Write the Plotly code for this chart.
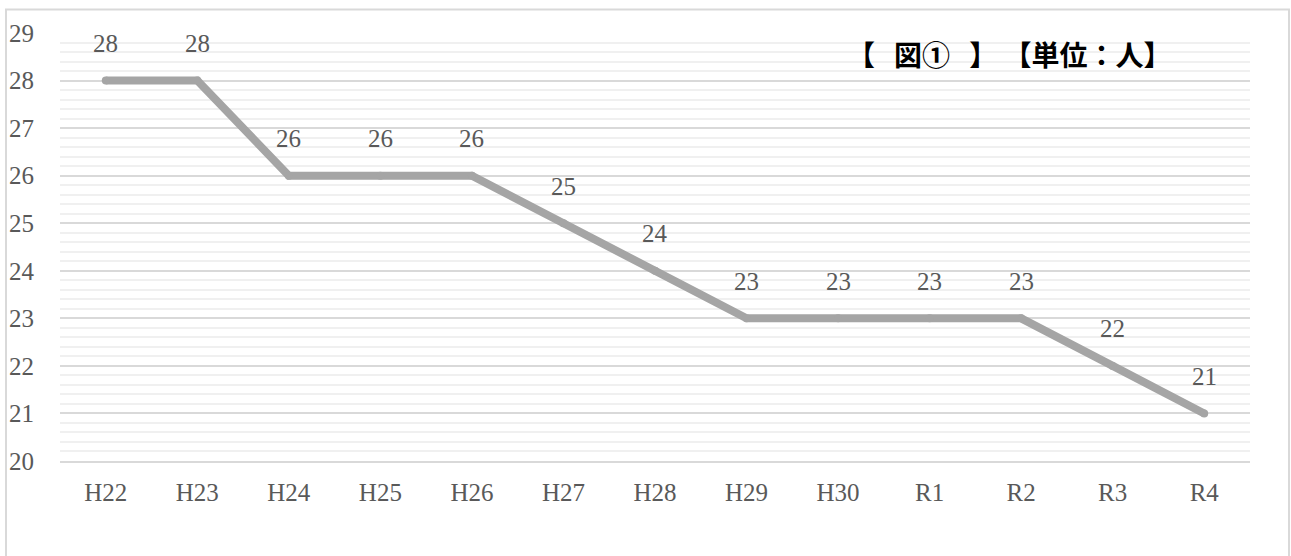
import plotly.graph_objects as go

# Yearly head count
years = ["H22", "H23", "H24", "H25", "H26", "H27", "H28", "H29", "H30", "R1", "R2", "R3", "R4"]
counts = [28, 28, 26, 26, 26, 25, 24, 23, 23, 23, 23, 22, 21]
y_ticks = [20, 21, 22, 23, 24, 25, 26, 27, 28, 29]
nb = "\u00a0"
chart_title = f"【{nb*3}図①{nb*3}】{nb}【単位：人】"

W, H = 1291, 556
L, R, T, B = 60, 41, 32.5, 94.5
plot_w = W - L - R
plot_h = H - T - B

serif = "Liberation Serif, DejaVu Serif, serif"
label_color = "#595959"
line_color = "#a5a5a5"

fig = go.Figure()
fig.add_trace(go.Scatter(
    x=years, y=counts,
    mode="lines+markers",
    line=dict(color=line_color, width=8),
    marker=dict(color=line_color, size=8),
    hoverinfo="skip",
    showlegend=False,
))

# value labels above each point
for yr, v in zip(years, counts):
    fig.add_annotation(
        x=yr, y=v, xref="x", yref="y",
        text=str(v), showarrow=False,
        yshift=37,
        font=dict(family=serif, size=25, color=label_color),
    )

fig.add_annotation(
    x=(1009 - L) / plot_w, y=(H - B - 54) / plot_h,
    xref="paper", yref="paper",
    text=chart_title, showarrow=False,
    xanchor="center", yanchor="middle",
    font=dict(family="Noto Sans CJK JP", size=28, color="#000000", weight="bold"),
)

# outer chart frame
fig.add_shape(
    type="rect", xref="paper", yref="paper",
    x0=(6 - L) / plot_w, x1=(1289 - L) / plot_w,
    y0=(H - B - 570) / plot_h, y1=(H - B - 9) / plot_h,
    line=dict(color="#d9d9d9", width=2),
    fillcolor="rgba(0,0,0,0)",
    layer="below",
)

fig.update_layout(
    width=W, height=H,
    margin=dict(l=L, r=R, t=T, b=B, pad=0, autoexpand=False),
    paper_bgcolor="white",
    plot_bgcolor="white",
    xaxis=dict(
        type="category",
        range=[-0.5, len(years) - 0.5],
        showgrid=False,
        showline=True, linecolor="#d9d9d9", linewidth=2,
        ticks="", ticklabelstandoff=8,
        tickfont=dict(family=serif, size=25, color=label_color),
        automargin=False,
        fixedrange=True,
    ),
    yaxis=dict(
        range=[20, 29],
        tickvals=y_ticks,
        showgrid=True, gridcolor="#d9d9d9", gridwidth=1.5,
        zeroline=False, showline=False,
        ticks="", ticklabelstandoff=25,
        tickfont=dict(family=serif, size=25, color=label_color),
        minor=dict(dtick=0.2, showgrid=True, gridcolor="#f0f0f0", gridwidth=1.5),
        automargin=False,
        fixedrange=True,
    ),
)

fig.write_html("out.html")
